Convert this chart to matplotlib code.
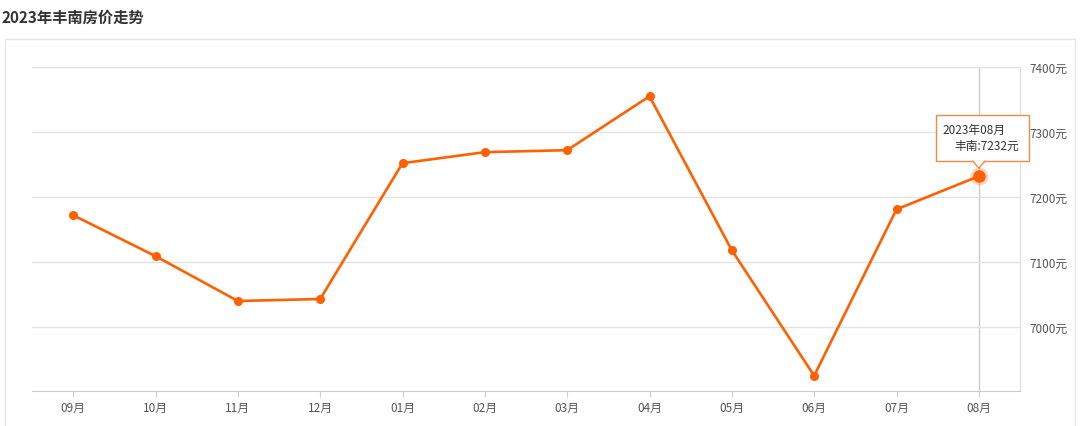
import matplotlib
matplotlib.use("Agg")
import matplotlib.pyplot as plt
from matplotlib.patches import Rectangle, Polygon
from matplotlib.transforms import ScaledTranslation

plt.rcParams["font.family"] = ["Noto Sans CJK SC", "DejaVu Sans"]

months = ["09月", "10月", "11月", "12月", "01月", "02月", "03月", "04月", "05月", "06月", "07月", "08月"]
prices = [7172, 7109, 7040, 7043, 7252, 7269, 7272, 7355, 7118, 6925, 7181, 7232]
y_ticks = [7000, 7100, 7200, 7300, 7400]
title = "2023年丰南房价走势"
tip_title = "2023年08月"
tip_label = "丰南"

_ORANGE = "#ff6000"
_TIP_EDGE = "#f08a4b"
_GRID = "#e3e3e3"
_TEXT = "#555555"

W, H = 1080, 427
fig = plt.figure(figsize=(W / 100, H / 100), dpi=100)

# outer panel frame
fig.patches.append(Rectangle((5 / W, -0.05), 1070 / W, 1.05 - 40 / H, transform=fig.transFigure,
                             facecolor="none", edgecolor="#e6e6e6", linewidth=1, zorder=-1))
fig.text(2 / W, 1 - 18 / H, title, fontsize=11, fontweight="bold", color="#333333", va="center")

ax = fig.add_axes([32 / W, 35 / H, 988 / W, 324 / H])
ax.set_facecolor("none")
x = list(range(len(months)))
ax.plot(x, prices, color=_ORANGE, linewidth=1.9, marker="o", markersize=5.5, zorder=3)

ax.set_xlim(-0.5, len(months) - 0.5)
ax.set_ylim(6901.5, 7400)
ax.set_xticks(x)
ax.set_xticklabels(months)
ax.set_yticks(y_ticks)
ax.set_yticklabels([f"{v}元" for v in y_ticks])
ax.yaxis.tick_right()
ax.grid(axis="y", color=_GRID, linewidth=1, zorder=0)
ax.tick_params(axis="x", length=4, color="#cccccc", labelsize=8.5, labelcolor=_TEXT, pad=3)
ax.tick_params(axis="y", length=0, labelsize=8.5, labelcolor=_TEXT, pad=7)
for s in ("top", "left"):
    ax.spines[s].set_visible(False)
ax.spines["bottom"].set_color("#cccccc")
ax.spines["right"].set_color("#dddddd")

# hover crosshair + highlighted last point
last = len(prices) - 1
ax.axvline(last, color="#cccccc", linewidth=1, zorder=1)
ax.plot([last], [prices[last]], "o", color=_ORANGE, markersize=13, alpha=0.25, zorder=4, markeredgewidth=0)
ax.plot([last], [prices[last]], "o", color=_ORANGE, markersize=8, zorder=5)

# tooltip anchored at the last point, sizes in pixels (/100 -> inches)
anchor = fig.dpi_scale_trans + ScaledTranslation(last, prices[last], ax.transData)
box = Rectangle((-0.43, 0.15), 0.93, 0.46, transform=anchor, facecolor="white",
                edgecolor=_TIP_EDGE, linewidth=1, zorder=6, clip_on=False)
ax.add_patch(box)
ptr = Polygon([(-0.06, 0.155), (0.06, 0.155), (0.0, 0.08)], closed=True, transform=anchor,
              facecolor="white", edgecolor="none", zorder=7, clip_on=False)
ax.add_patch(ptr)
ax.plot([-0.06, 0.0, 0.06], [0.15, 0.08, 0.15], color=_TIP_EDGE, linewidth=1, transform=anchor,
        zorder=7, clip_on=False)
ax.text(-0.36, 0.47, tip_title, transform=anchor, fontsize=8.5, color="#333333",
        ha="left", va="center", zorder=8)
ax.text(0.40, 0.31, f"{tip_label}:{prices[last]}元", transform=anchor, fontsize=8.5, color="#333333",
        ha="right", va="center", zorder=8)

fig.savefig("out.png", dpi=100)
